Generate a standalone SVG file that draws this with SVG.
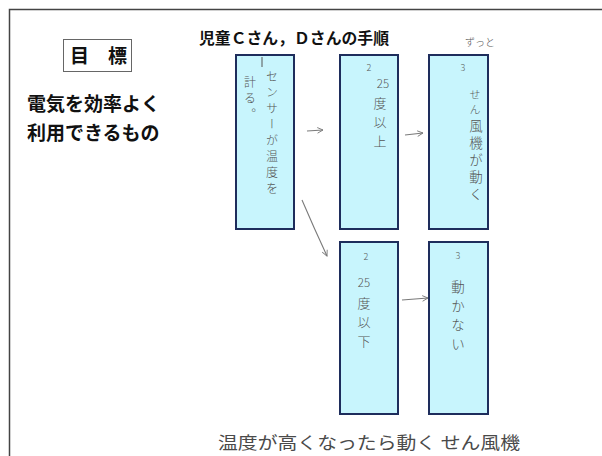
<svg xmlns="http://www.w3.org/2000/svg" width="602" height="456" viewBox="0 0 602 456">
<style>
.jp{font-family:"Noto Sans CJK JP","Noto Sans CJK SC",sans-serif;}
.b{font-weight:bold;fill:#111;}
.hw{fill:#555;font-weight:300;}
.v{writing-mode:vertical-rl;text-anchor:start;}
.n{text-anchor:middle;}
.box{fill:#c8f5fd;stroke:#1e2d5c;stroke-width:2;}
.arr{fill:none;stroke:#7a7a7a;stroke-width:1.1;marker-end:url(#ah);}
</style>
<defs>
<marker id="ah" viewBox="0 0 10 10" refX="9" refY="5" markerWidth="7" markerHeight="7" orient="auto" markerUnits="userSpaceOnUse">
<path d="M1,1 L9,5 L1,9" fill="none" stroke="#7a7a7a" stroke-width="1.3"/>
</marker>
</defs>
<rect width="602" height="456" fill="#fff"/>
<path d="M602,9.5 H9.5 V456" fill="none" stroke="#444" stroke-width="1.5"/>

<g id="goal">
<rect x="63.5" y="39.5" width="68" height="32" fill="#fff" stroke="#666" stroke-width="1"/>
<text class="jp b" x="70" y="63" font-size="19">目　標</text>
</g>
<g id="goal-text">
<text class="jp b" x="27" y="111" font-size="19">電気を効率よく</text>
<text class="jp b" x="27" y="140" font-size="19">利用できるもの</text>
</g>
<g id="title">
<text class="jp b" x="199" y="44" font-size="15.5" textLength="190" lengthAdjust="spacingAndGlyphs">児童Ｃさん，Ｄさんの手順</text>
</g>
<g id="zutto">
<text class="jp hw n" x="480" y="46" font-size="10">ずっと</text>
</g>

<g id="connectors">
<path class="arr" d="M307,131 L323,130"/>
<path class="arr" d="M405,135 L423,133"/>
<path class="arr" d="M302,200 Q314,228 327,256"/>
<path class="arr" d="M402,300 L428,298"/>
</g>

<g id="step1">
<rect class="box" x="236" y="55" width="58" height="174"/>
<path d="M262,57 L262,67" stroke="#555" stroke-width="1"/>
<text class="jp hw v" x="272" y="70" font-size="12" letter-spacing="4">センサーが温度を</text>
<text class="jp hw v" x="250" y="76" font-size="12" letter-spacing="4">計る。</text>
</g>

<g id="step2a">
<rect class="box" x="340" y="55" width="58" height="174"/>
<text class="jp hw n" x="369" y="71" font-size="9">2</text>
<text class="jp hw n" x="383" y="88" font-size="11.5">25</text>
<text class="jp hw v" x="380" y="97" font-size="13" letter-spacing="6">度以上</text>
</g>

<g id="step3a">
<rect class="box" x="429" y="55" width="59" height="174"/>
<text class="jp hw n" x="463" y="71" font-size="9">3</text>
<text class="jp hw v" x="475" y="89" font-size="11" letter-spacing="4">せん</text>
<text class="jp hw v" x="476" y="119" font-size="13.5" letter-spacing="3.5">風機が動く</text>
</g>

<g id="step2b">
<rect class="box" x="340" y="242" width="58" height="172"/>
<text class="jp hw n" x="366" y="260" font-size="9">2</text>
<text class="jp hw n" x="364" y="287" font-size="11.5">25</text>
<text class="jp hw v" x="364" y="297" font-size="13" letter-spacing="6">度以下</text>
</g>

<g id="step3b">
<rect class="box" x="429" y="242" width="59" height="172"/>
<text class="jp hw n" x="458" y="259" font-size="9">3</text>
<text class="jp hw v" x="458" y="280" font-size="13.5" letter-spacing="5.5">動かない</text>
</g>

<g id="caption">
<text class="jp" x="218" y="449" font-size="17" fill="#4a4a4a" textLength="302" lengthAdjust="spacingAndGlyphs">温度が高くなったら動く せん風機</text>
</g>
</svg>
